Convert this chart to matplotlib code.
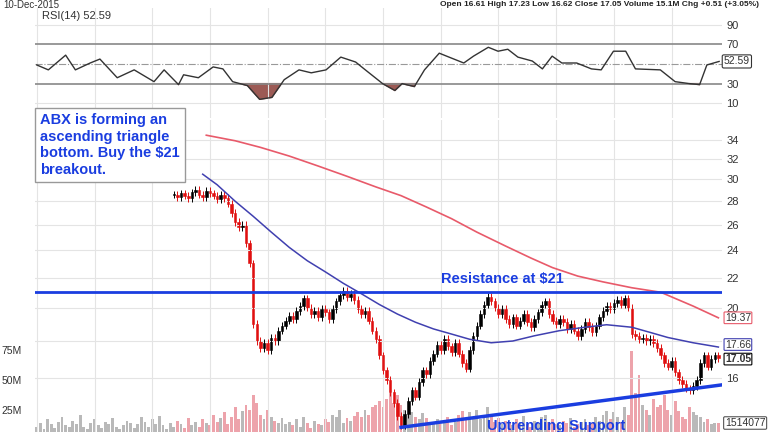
import matplotlib
matplotlib.use("Agg")
import matplotlib.pyplot as plt
import numpy as np

plt.rcParams['font.family'] = ['Liberation Sans', 'DejaVu Sans']

closes = [28.6,28.4,28.7,28.5,28.3,28.8,29.0,28.6,28.4,28.9,28.7,28.5,28.2,28.6,28.3,27.8,
          27.0,26.2,25.8,26.0,24.5,23.0,
          19.0,18.0,17.6,17.9,17.5,18.2,
          18.0,18.6,18.9,19.2,19.5,19.3,19.8,20.1,20.6,
          20.0,19.6,19.8,19.4,19.9,19.7,19.3,19.9,20.4,
          20.8,21.1,20.7,20.9,20.5,
          19.9,19.6,19.8,19.2,18.6,18.1,
          17.2,16.4,15.9,15.3,14.8,14.2,13.8,
          14.3,14.9,15.4,15.1,15.8,16.4,16.2,16.9,17.3,
          17.8,17.5,18.1,17.7,17.4,17.9,17.3,16.8,16.5,
          17.5,18.3,18.9,19.6,20.2,20.7,20.4,
          20.0,19.6,19.9,19.3,19.0,19.4,18.9,19.2,19.6,19.1,18.8,19.3,19.7,20.2,20.4,
          19.6,19.2,19.0,19.3,19.1,18.7,19.0,18.6,18.3,18.7,19.1,18.8,18.5,18.9,19.4,19.8,
          20.1,19.9,20.3,20.5,20.2,20.6,20.0,
          18.4,18.3,18.1,18.2,18.0,18.1,17.9,17.6,17.2,16.8,16.6,
          16.9,16.3,15.9,15.7,15.5,15.4,15.6,
          15.9,16.8,17.2,16.6,17.0,17.2,17.05]
first_day = 38

volume = [12,15,10,18,14,11,16,20,13,12, 17,14,22,12,10,15,18,13,11,16,
          14,19,12,10,13,17,15,11,14,20, 16,12,18,14,21,13,10,15,12,17,
          14,11,19,13,16,12,18,15,13,22, 16,19,24,14,20,28,18,25,30,26,
          38,32,22,18,26,20,17,15,19,14, 16,13,18,12,20,15,11,17,14,13,
          18,16,22,20,26,15,19,17,21,24, 20,26,22,28,30,33,28,35,40,32,
          38,30,26,22,24,20,18,23,19,16, 15,18,14,17,20,13,16,22,25,19,
          24,20,26,18,22,28,20,16,19,14, 17,15,13,18,16,21,14,12,17,15,
          20,22,16,18,14,13,17,15,19,12, 14,16,18,13,15,20,17,22,25,18,
          24,20,16,28,22,75,40,55,30,26, 22,35,28,30,38,26,22,33,25,20,
          18,28,24,22,20,16,18,14,15,15]

sma50_days = [46,50,55,60,65,70,75,80,85,90,95,100,105,110,115,120,126,132,138,145,152,158,165,170,175,182,189]
sma50 = [30.5,29.5,28.0,26.7,25.4,24.2,23.2,22.4,21.6,20.9,20.2,19.6,19.1,18.7,18.4,18.1,17.9,18.0,
         18.3,18.6,18.8,18.95,18.8,18.5,18.2,17.9,17.66]
sma200_days = [47,55,62,70,78,86,94,101,108,115,122,130,137,143,150,157,165,173,182,189]
sma200 = [34.5,33.9,33.2,32.3,31.3,30.3,29.3,28.5,27.5,26.5,25.4,24.3,23.4,22.7,22.1,21.7,21.3,21.0,20.1,19.37]

rsi_days = [0,3.2,8,10.7,14.8,17.5,22.3,27,32.5,35.3,39.3,40.7,44.8,48.9,51.6,54.3,58.4,61.8,65.2,
            68.6,72.7,76.1,80.2,84.3,88.4,91.1,95.9,99.3,101.3,104.7,107.5,111.6,114.3,118.4,121.1,
            125.2,127.9,130.6,133.4,137.4,140.2,142.9,145.6,149.7,153.8,156.5,159.9,163.3,166,172.9,
            177,181,183.8,185.8,189.2]
rsi = [49,44,59,44,51,55,36,44,32,44,29,39,36,47,45,32,28,14,16,
       34,44,41,44,57,52,44,30,23,30,27,44,61,57,51,58,
       67,63,65,57,53,45,58,51,51,45,44,63,63,45,44,
       32,30,29,49,52.59]

resistance = 21.0
support_days = [101, 190]
support_vals = [13.7, 15.67]

blue = '#1a3de0'
W, H = 768, 432
fig = plt.figure(figsize=(7.68, 4.32), dpi=100)
L, R = 35/W, 722/W

# RSI panel
ar = fig.add_axes([L, 1-118/H, R-L, 110/H])
ar.set_xlim(-0.5, 190)
ar.set_ylim(-5, 107)
for v in [10, 90]:
    ar.axhline(v, color='#e4e4e4', lw=0.8)
for v in [30, 70]:
    ar.axhline(v, color='#888888', lw=1.2)
ar.axhline(50, color='#999999', lw=0.8, ls='-.')
ra = np.array(rsi); rd = np.array(rsi_days)
ar.fill_between(rd, ra, 30, where=ra < 30, interpolate=True, color='#9c5a55')
ar.plot(rd, ra, color='#333333', lw=1)
ar.set_yticks([10, 30, 70, 90])
ar.yaxis.tick_right()
ar.tick_params(axis='y', length=0, labelsize=8, colors='#333333', pad=3)
ar.set_xticks(np.arange(0, 190, 16))
ar.tick_params(axis='x', length=0, labelbottom=False)
ar.grid(axis='x', color='#e4e4e4', lw=0.8)
for s in ar.spines.values():
    s.set_visible(False)
ar.text(0.01, 0.93, 'RSI(14) 52.59', transform=ar.transAxes, fontsize=8, color='#333333', va='center')
ar.text(190.5, 52.59, '52.59', fontsize=7.5, va='center', ha='left', color='#333333',
        bbox=dict(boxstyle='round,pad=0.15', fc='white', ec='#333333', lw=0.8))

# Price panel
ap = fig.add_axes([L, 0, R-L, 312/H])
av = ap.twinx()
av.set_zorder(0); ap.set_zorder(1); ap.patch.set_visible(False)
ap.set_xlim(-0.5, 190)
av.set_xlim(-0.5, 190)
ap.set_yscale('log')
ap.set_ylim(13.5, 36.2)
av.set_ylim(7.5, 267.5)

days = np.arange(first_day, first_day + len(closes))
c = np.array(closes)
o = np.concatenate([[closes[0]], c[:-1]])
up = c >= o
vcol = []
for d in range(len(volume)):
    i = d - first_day
    if 0 <= i < len(closes) and not up[i]:
        vcol.append('#eda3ab')
    else:
        vcol.append('#b9b9b9')
av.bar(np.arange(len(volume)), volume, width=0.8, color=vcol, bottom=0)
av.set_yticks([])
for s in av.spines.values():
    s.set_visible(False)

hi = np.maximum(o, c) * 1.012
lo = np.minimum(o, c) * 0.988
for d, oo, cc, h, l, u in zip(days, o, c, hi, lo, up):
    col = 'black' if u else '#e01010'
    ap.vlines(d, l, h, color=col, lw=0.7)
    ap.bar(d, abs(cc-oo) if abs(cc-oo) > 0.03 else 0.06, bottom=min(oo, cc), width=0.7,
           color=col, edgecolor=col, lw=0.4)

ap.plot(sma200_days, sma200, color='#e85a6a', lw=1.2)
ap.plot(sma50_days, sma50, color='#4040b0', lw=1.1)
ap.axhline(resistance, color=blue, lw=2)
ap.plot(support_days, support_vals, color=blue, lw=2.5)

ticks = [16, 18, 20, 22, 24, 26, 28, 30, 32, 34]
ap.set_yticks(ticks)
ap.set_yticklabels(['' if t == 18 else str(t) for t in ticks])
ap.yaxis.set_minor_locator(matplotlib.ticker.NullLocator())
ap.yaxis.tick_right()
ap.tick_params(axis='y', length=0, labelsize=8, colors='#333333', pad=3)
ap.set_xticks(np.arange(0, 190, 16))
ap.tick_params(axis='x', length=0, labelbottom=False)
ap.grid(color='#e4e4e4', lw=0.8)
for s in ap.spines.values():
    s.set_visible(False)

for val, ypos, col, bold in [(19.37, 19.37, '#e85a6a', False), (17.66, 17.8, '#4040b0', False),
                             (17.05, 17.0, 'black', True)]:
    ap.text(190.8, ypos, f'{val:.2f}', fontsize=7.5, va='center', ha='left', color='#333333',
            fontweight='bold' if bold else 'normal',
            bbox=dict(boxstyle='round,pad=0.08', fc='white', ec=col, lw=0.8))
for v, lab in [(25, '25M'), (50, '50M'), (75, '75M')]:
    av.text(-0.5 - 9.3, v, lab, fontsize=7.5, color='#333333', va='center', ha='left')
av.text(190.8, 15, '1514077', fontsize=7.5, color='#333333', va='center', ha='left',
        bbox=dict(boxstyle='round,pad=0.12', fc='white', ec='#555555', lw=0.8))

ap.text(0.68, 21.45, 'Resistance at $21', transform=ap.get_yaxis_transform(), fontsize=10.5,
        fontweight='bold', color=blue, ha='center', va='bottom')
fig.text(487/W, 1-426/H, 'Uptrending Support', fontsize=10.5, fontweight='bold', color=blue,
         ha='left', va='center')

fig.text(3/W, 1-5/H, '10-Dec-2015', fontsize=7, color='#333333', va='center')
fig.text(440/W, 1-5/H, 'Open 16.61 High 17.23 Low 16.62 Close 17.05 Volume 15.1M Chg +0.51 (+3.05%)',
         fontsize=6, color='#222222', va='center', fontweight='bold')

fig.text(40/W, 1-145/H, 'ABX is forming an\nascending triangle\nbottom. Buy the $21\nbreakout.',
         fontsize=10.5, fontweight='bold', color=blue, va='center', ha='left', linespacing=1.25,
         bbox=dict(boxstyle='square,pad=0.35', fc='white', ec='#999999', lw=1))

fig.savefig('out.png', dpi=100)
